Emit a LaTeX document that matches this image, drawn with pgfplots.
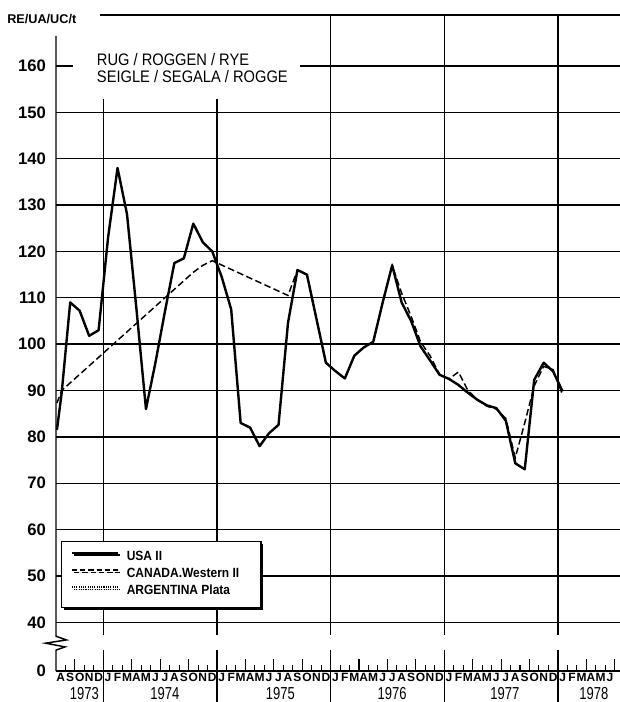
\documentclass[border=0pt]{standalone}
\usepackage{fontspec}
\setmainfont{Liberation Sans}
\newfontfamily\titlefont[FakeStretch=0.88]{Liberation Sans}
\newfontfamily\yearfont[FakeStretch=0.75]{Liberation Sans}
\newfontfamily\legff[FakeStretch=0.9]{Liberation Sans}
\usepackage{pgfplots}
\pgfplotsset{compat=1.18}
\usetikzlibrary{shadows}
\newcommand\legfont{\legff\fontsize{10}{11}\selectfont\bfseries}
\begin{document}
\begin{tikzpicture}
\begin{axis}[
  scale only axis, width=423pt, height=492pt,
  xmin=0, xmax=59.56, ymin=29.5, ymax=171,
  axis line style={draw=none},
  clip=false,
  /pgf/number format/assume math mode=true,
  ytick={29.5,40,50,...,160},
  yticklabels={0,40,50,60,70,80,90,100,110,120,130,140,150,160},
  yticklabel style={font=\bfseries\fontsize{12.5}{13}\selectfont, xshift=-4pt},
  ymajorgrids, grid style={black, line width=1pt},
  major tick length=0pt,
  xtick={0.5,1.5,...,58.5},
  xticklabels={A,S,O,N,D,
    J,F,M,A,M,J,J,A,S,O,N,D,
    J,F,M,A,M,J,J,A,S,O,N,D,
    J,F,M,A,M,J,J,A,S,O,N,D,
    J,F,M,A,M,J,J,A,S,O,N,D,
    J,F,M,A,M,J},
  xticklabel style={font=\bfseries\fontsize{9}{10}\selectfont, yshift=2.1pt},
  legend cell align=left,
  legend style={at={(axis cs:0.53,57.6)}, anchor=north west, draw=black, line width=1pt,
    fill=white, drop shadow={shadow xshift=1.8pt, shadow yshift=-1.8pt, fill=black, opacity=1},
    inner xsep=6.75pt, inner ysep=5.8pt, font=\legfont, row sep=0.3pt, column sep=4.5pt,
    nodes={inner sep=1.5pt, text height=7.3pt, text depth=2.2pt}},
  legend image code/.code={\draw[#1] (0pt,3.4pt) -- (34.5pt,3.4pt);},
]
\coordinate (SW) at (rel axis cs:0,0);
\coordinate (NE) at (rel axis cs:1,1);

% vertical year lines
\pgfplotsinvokeforeach{5,17}{\draw[black, line width=1pt] (axis cs:#1,37.3) -- (axis cs:#1,153.4);}
\pgfplotsinvokeforeach{29,41,53}{\draw[black, line width=1pt] (axis cs:#1,37.3) -- (axis cs:#1,171);}
\pgfplotsinvokeforeach{5,17,29,41,53}{\draw[black, line width=1pt] (axis cs:#1,34.0) -- (axis cs:#1,22.8);}

% month ticks
\pgfplotsinvokeforeach{1,3,4,6,7,9,10,12,13,15,16,18,19,21,22,24,25,27,28,30,31,33,34,36,37,39,40,42,43,45,46,48,49,51,52,54,55,57,58}{\draw[black, line width=0.8pt] (axis cs:#1,29.5) -- ++(0pt,4.5pt);}
\pgfplotsinvokeforeach{2,8,11,14,20,23,26,32,35,38,44,47,50,56,59}{\draw[black, line width=0.8pt] (axis cs:#1,29.5) -- ++(0pt,9pt);}

% axes
\draw[black, line width=1.4pt] (axis cs:0,29.5) -- (axis cs:59.56,29.5);
\draw[black, line width=1.1pt] (axis cs:0,166.5) -- (axis cs:0,37.0) -- (axis cs:1.1,36.2) -- (axis cs:-1.1,35.5) -- (axis cs:0.95,34.7) -- (axis cs:0,34.0) -- (axis cs:0,29.5);

% title box
\fill[white] (axis cs:1.8,152.8) rectangle (axis cs:25.8,172);
\draw[black, line width=1pt] (axis cs:4.6,171) -- (axis cs:59.56,171);
\node[anchor=base west, inner sep=0pt, font=\titlefont\fontsize{12.5}{13}\selectfont] at (axis cs:4.3,160.15) {RUG / ROGGEN / RYE};
\node[anchor=base west, inner sep=0pt, font=\titlefont\fontsize{12.5}{13}\selectfont] at (axis cs:4.3,156.5) {SEIGLE / SEGALA / ROGGE};
\node[anchor=west, inner sep=0pt, font=\bfseries\fontsize{9.5}{10}\selectfont] at (axis cs:-5.17,170.2) {RE/UA/UC/t};

% year labels
\node[font=\yearfont\fontsize{13}{14}\selectfont, inner sep=0pt] at (axis cs:3.0,24.7) {1973};
\node[font=\yearfont\fontsize{13}{14}\selectfont, inner sep=0pt] at (axis cs:11.5,24.7) {1974};
\node[font=\yearfont\fontsize{13}{14}\selectfont, inner sep=0pt] at (axis cs:23.7,24.7) {1975};
\node[font=\yearfont\fontsize{13}{14}\selectfont, inner sep=0pt] at (axis cs:35.5,24.7) {1976};
\node[font=\yearfont\fontsize{13}{14}\selectfont, inner sep=0pt] at (axis cs:47.4,24.7) {1977};
\node[font=\yearfont\fontsize{13}{14}\selectfont, inner sep=0pt] at (axis cs:56.8,24.7) {1978};

% legend images
\addlegendimage{black, line width=1.6pt}
\addlegendentry{USA II}
\addlegendimage{black, line width=1.1pt, dash pattern=on 4pt off 2.2pt}
\addlegendentry{CANADA.Western II\hspace*{8pt}}
\addlegendimage{black, line width=1pt, dash pattern=on 0.8pt off 0.9pt}
\addlegendentry{ARGENTINA Plata}

% CANADA Western II
\addplot[forget plot, black, line width=1.1pt, dash pattern=on 5pt off 2.5pt] coordinates {
(0.1,87.3)(0.6,90)(14.5,115.5)(15.5,117)(16.5,118)(24.5,110.5)(25.5,116)(26.5,115)
(27.5,105.5)(28.5,96)(29.5,94.2)(30.5,92.6)(31.5,97.5)(32.5,99.3)(33.5,100.5)(34.5,109)
(35.5,117)(36.5,111)(37.5,106)(38.5,100.5)(39.5,97.5)(40.5,93.5)(41.5,92.5)(42.5,94)
(43.5,90)(44.5,88)(45.5,86.6)(46.5,86)(47.5,84)(48.5,75.5)(49.5,83)(50.5,91)(51.5,95.2)
(52.5,94.5)(53.5,89)};

% USA II
\addplot[forget plot, black, line width=1.8pt, line join=round] coordinates {
(0.1,81.5)(0.6,89.5)(1.5,109)(2.5,107.2)(3.5,101.8)(4.5,103)(5.5,123)(6.5,138)(7.5,128)
(8.5,107.5)(9.5,86)(10.5,96)(11.5,107)(12.5,117.5)(13.5,118.5)(14.5,126)(15.5,122)
(16.5,120)(17.5,114.5)(18.5,107.5)(19.5,83)(20.5,82)(21.5,78)(22.5,80.8)(23.5,82.6)
(24.5,104.6)(25.5,116)(26.5,115)(27.5,105.5)(28.5,96)(29.5,94.2)(30.5,92.6)(31.5,97.5)
(32.5,99.3)(33.5,100.5)(34.5,109)(35.5,117)(36.5,109)(37.5,105)(38.5,99.5)(39.5,96.5)
(40.5,93.4)(41.5,92.5)(42.5,91.2)(43.5,89.5)(44.5,88)(45.5,86.8)(46.5,86.2)(47.5,83.5)
(48.5,74.3)(49.5,73)(50.5,92.3)(51.5,96)(52.5,94.1)(53.5,89.8)};
\end{axis}
\pgfresetboundingbox
\path ([shift={(-42pt,-23.25pt)}]SW) rectangle ([shift={(0pt,11.25pt)}]NE);
\end{tikzpicture}
\end{document}
